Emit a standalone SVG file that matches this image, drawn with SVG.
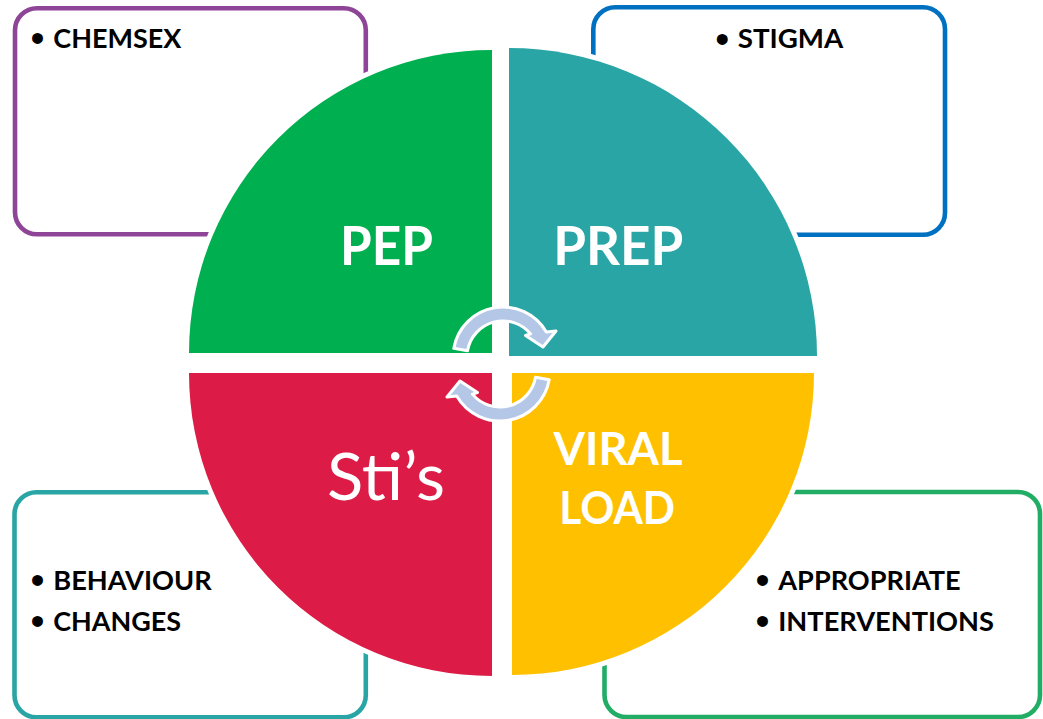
<svg xmlns="http://www.w3.org/2000/svg" width="1043" height="719" viewBox="0 0 1043 719">
  <style>
    .box { fill: #ffffff; stroke-width: 4.6; }
    .halo { fill: #ffffff; stroke: #ffffff; stroke-width: 10; stroke-linejoin: round; }
    .item { font-family: Lato, "Liberation Sans", sans-serif; font-weight: bold; font-size: 27.5px; fill: #000000; }
    .dot { font-family: "Liberation Sans", sans-serif; font-size: 40px; fill: #000000; text-anchor: middle; }
    .label { font-family: Lato, "Liberation Sans", sans-serif; font-weight: bold; fill: #ffffff; }
    .label.plain { font-weight: normal; }
    .cycle { fill: #B4C7E7; stroke: #ffffff; stroke-width: 3; stroke-linejoin: round; }
  </style>
  <defs>
    <!-- curved arrow running clockwise over the top of the centre -->
    <path id="turn" d="M453.8,348.3 A50,50 0 0 1 546.3,332 L556,331 L543,347 L525.5,335.5 L530.6,333.9 A36,36 0 0 0 467.5,350.7 Z"/>
  </defs>

  <rect width="1043" height="719" fill="#ffffff"/>

  <!-- side boxes, drawn first so the pie sits on top of them -->
  <g id="box-chemsex">
    <rect class="box" x="15" y="8.3" width="350.8" height="225.9" rx="22" stroke="#8E4497"/>
    <text class="dot" x="37.5" y="52">•</text>
    <text class="item" x="53.3" y="47.7" textLength="128" lengthAdjust="spacingAndGlyphs">CHEMSEX</text>
  </g>
  <g id="box-stigma">
    <rect class="box" x="593.3" y="7.3" width="351.7" height="227.5" rx="22" stroke="#0070C0"/>
    <text class="dot" x="722.3" y="52.5">•</text>
    <text class="item" x="737.7" y="48.3" textLength="105.6" lengthAdjust="spacingAndGlyphs">STIGMA</text>
  </g>
  <g id="box-behaviour">
    <rect class="box" x="14.5" y="492.2" width="351.3" height="225" rx="22" stroke="#2AA5A5"/>
    <text class="dot" x="37.5" y="594.3">•</text>
    <text class="item" x="53.3" y="590" textLength="158.4" lengthAdjust="spacingAndGlyphs">BEHAVIOUR</text>
    <text class="dot" x="37.5" y="635">•</text>
    <text class="item" x="53.3" y="630.7" textLength="127.7" lengthAdjust="spacingAndGlyphs">CHANGES</text>
  </g>
  <g id="box-interventions">
    <rect class="box" x="604.5" y="492" width="435.5" height="225" rx="22" stroke="#22AD66"/>
    <text class="dot" x="762.5" y="594.3">•</text>
    <text class="item" x="778.3" y="590" textLength="182.4" lengthAdjust="spacingAndGlyphs">APPROPRIATE</text>
    <text class="dot" x="762.5" y="635">•</text>
    <text class="item" x="778.3" y="630.7" textLength="215.7" lengthAdjust="spacingAndGlyphs">INTERVENTIONS</text>
  </g>

  <!-- white outline behind the four quarters -->
  <g id="pie-halo">
    <path class="halo" d="M492,353 L189,353 A303,303 0 0 1 492,50 Z"/>
    <path class="halo" d="M509,356 L509,48 A308,308 0 0 1 817,356 Z"/>
    <path class="halo" d="M512,373 L814,373 A302,302 0 0 1 512,675 Z"/>
    <path class="halo" d="M492,373 L492,676 A303,303 0 0 1 189,373 Z"/>
  </g>

  <g id="pep">
    <path d="M492,353 L189,353 A303,303 0 0 1 492,50 Z" fill="#00B050"/>
    <text class="label" x="340" y="265" font-size="53" textLength="93" lengthAdjust="spacingAndGlyphs">PEP</text>
  </g>
  <g id="prep">
    <path d="M509,356 L509,48 A308,308 0 0 1 817,356 Z" fill="#2AA5A5"/>
    <text class="label" x="553.3" y="265" font-size="53" textLength="130" lengthAdjust="spacingAndGlyphs">PREP</text>
  </g>
  <g id="viral-load">
    <path d="M512,373 L814,373 A302,302 0 0 1 512,675 Z" fill="#FFC000"/>
    <text class="label" x="553.5" y="465" font-size="46" textLength="129" lengthAdjust="spacingAndGlyphs">VIRAL</text>
    <text class="label" x="559.3" y="523.5" font-size="46" textLength="115.7" lengthAdjust="spacingAndGlyphs">LOAD</text>
  </g>
  <g id="stis">
    <path d="M492,373 L492,676 A303,303 0 0 1 189,373 Z" fill="#DC1C46"/>
    <text class="label plain" x="327" y="500" font-size="65" textLength="118" lengthAdjust="spacingAndGlyphs">Sti’s</text>
  </g>

  <!-- cycle arrows in the middle -->
  <g id="connectors">
    <use href="#turn" class="cycle"/>
    <use href="#turn" class="cycle" transform="rotate(180 501.5 364)"/>
  </g>
</svg>
